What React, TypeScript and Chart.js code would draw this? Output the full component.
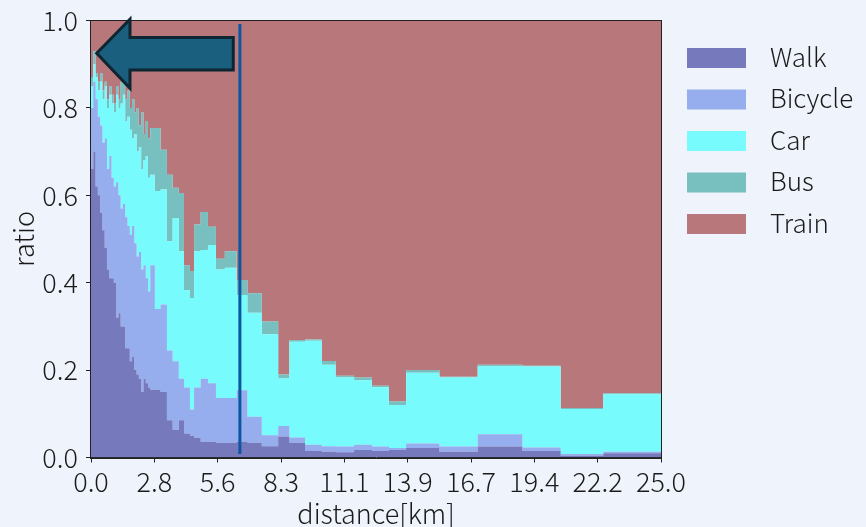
import React, { useEffect, useRef } from "react";
import { Chart, registerables } from "chart.js";

Chart.register(...registerables);

// ---- data ----
const binStarts = [
  0, 0.1, 0.2, 0.3, 0.4, 0.5, 0.6, 0.7, 0.8, 0.9, 1.0, 1.1, 1.2, 1.3, 1.4, 1.5, 1.6, 1.7, 1.8, 1.9, 2.0, 2.1, 2.2, 2.3, 2.4, 2.5,
  2.6, 2.8, 3.05, 3.33, 3.58, 3.85, 4.08, 4.34, 4.52, 4.81, 5.13, 5.48, 5.87, 6.39,
  6.86, 7.49, 8.21, 8.7, 9.39, 10.12, 10.73, 11.54, 12.32, 13.07, 13.82, 15.28, 16.96, 18.92, 20.6, 22.47,
];
const lastEdge = 25;

const walk = [
  0.66, 0.70, 0.62, 0.60, 0.56, 0.52, 0.48, 0.43, 0.41, 0.41, 0.40, 0.32, 0.33, 0.30, 0.30, 0.25, 0.25, 0.22, 0.23, 0.20, 0.19, 0.18, 0.15, 0.18, 0.17, 0.16,
  0.155, 0.155, 0.15, 0.085, 0.063, 0.085, 0.055, 0.05, 0.045, 0.036, 0.036, 0.034, 0.034, 0.036,
  0.034, 0.026, 0.048, 0.034, 0.015, 0.013, 0.012, 0.017, 0.015, 0.017, 0.022, 0.013, 0.025, 0.015, 0.004, 0.010,
];
const bicycle = [
  0.14, 0.16, 0.20, 0.18, 0.20, 0.20, 0.25, 0.23, 0.28, 0.23, 0.22, 0.31, 0.27, 0.27, 0.28, 0.30, 0.28, 0.29, 0.30, 0.29, 0.27, 0.29, 0.28, 0.26, 0.24, 0.22,
  0.285, 0.185, 0.20, 0.16, 0.157, 0.095, 0.105, 0.06, 0.115, 0.144, 0.134, 0.102, 0.102, 0.118,
  0.059, 0.025, 0.024, 0.012, 0.014, 0.013, 0.013, 0.012, 0.010, 0.005, 0.010, 0.012, 0.028, 0.008, 0.004, 0.003,
];
const car = [
  0.05, 0.04, 0.05, 0.06, 0.10, 0.10, 0.12, 0.14, 0.14, 0.17, 0.17, 0.20, 0.20, 0.24, 0.25, 0.22, 0.25, 0.24, 0.20, 0.25, 0.24, 0.24, 0.23, 0.24, 0.28, 0.26,
  0.207, 0.27, 0.263, 0.25, 0.328, 0.292, 0.223, 0.255, 0.312, 0.295, 0.316, 0.294, 0.298, 0.218,
  0.238, 0.231, 0.109, 0.219, 0.238, 0.186, 0.158, 0.148, 0.136, 0.098, 0.162, 0.158, 0.156, 0.185, 0.103, 0.132,
];
const bus = [
  0.02, 0.03, 0.01, 0.02, 0.02, 0.02, 0.01, 0.02, 0.02, 0.02, 0.02, 0.02, 0.02, 0.05, 0.04, 0.05, 0.06, 0.05, 0.09, 0.05, 0.10, 0.05, 0.13, 0.06, 0.08, 0.09,
  0.107, 0.144, 0.091, 0.152, 0.069, 0.133, 0.057, 0.062, 0.061, 0.087, 0.042, 0.025, 0.038, 0.034,
  0.045, 0.029, 0.009, 0.004, 0.003, 0.009, 0.004, 0.006, 0.003, 0.008, 0.006, 0.002, 0.003, 0.002, 0.002, 0.002,
];
const train = [
  0.13, 0.07, 0.12, 0.14, 0.12, 0.16, 0.14, 0.18, 0.15, 0.17, 0.19, 0.15, 0.18, 0.14, 0.13, 0.18, 0.16, 0.20, 0.18, 0.21, 0.20, 0.24, 0.21, 0.26, 0.23, 0.27,
  0.246, 0.246, 0.296, 0.353, 0.383, 0.395, 0.56, 0.573, 0.467, 0.438, 0.472, 0.545, 0.528, 0.594,
  0.624, 0.689, 0.81, 0.731, 0.73, 0.779, 0.813, 0.817, 0.836, 0.872, 0.80, 0.815, 0.788, 0.79, 0.887, 0.853,
];

const modeNames = ["Walk", "Bicycle", "Car", "Bus", "Train"];
const modeSeries = [walk, bicycle, car, bus, train];
const modeColors = ["#7779bd", "#96adee", "#78fbfc", "#78bfc0", "#b8787b"];

const xTickValues = [0, 25 / 9, 50 / 9, 75 / 9, 100 / 9, 125 / 9, 150 / 9, 175 / 9, 200 / 9, 25];
const xTickLabels = ["0.0", "2.8", "5.6", "8.3", "11.1", "13.9", "16.7", "19.4", "22.2", "25.0"];
const yTickValues = [0, 0.2, 0.4, 0.6, 0.8, 1.0];
const yTickLabels = ["0.0", "0.2", "0.4", "0.6", "0.8", "1.0"];

const markerDistance = 6.53;
const arrowShape = {
  tipX: 0.25, tipY: 0.925,
  headBackX: 1.71, headTopY: 1.003, headBottomY: 0.845,
  shaftTopY: 0.961, shaftBottomY: 0.887, tailX: 6.24,
};

const FONT = "'Noto Sans CJK JP', 'Noto Sans', sans-serif";
const TEXT = "#1a1a1a";
const BG = "#eff3fb";

const decorPlugin = {
  id: "decor",
  afterDatasetsDraw(chart: any) {
    const { ctx, chartArea: a, scales } = chart;
    const xs = scales.x, ys = scales.y;
    ctx.save();
    const lx = xs.getPixelForValue(markerDistance);
    ctx.strokeStyle = "#0b56a2";
    ctx.lineWidth = 3;
    ctx.beginPath();
    ctx.moveTo(lx, ys.getPixelForValue(0.992));
    ctx.lineTo(lx, ys.getPixelForValue(0.008));
    ctx.stroke();
    ctx.strokeStyle = "#222";
    ctx.lineWidth = 1;
    ctx.strokeRect(Math.round(a.left) - 0.5, Math.round(a.top) - 0.5, Math.round(a.right) - Math.round(a.left) + 1, Math.round(a.bottom) - Math.round(a.top) + 1);
    const s = arrowShape;
    const px = (v: number) => xs.getPixelForValue(v);
    const py = (v: number) => ys.getPixelForValue(v);
    ctx.beginPath();
    ctx.moveTo(px(s.tipX), py(s.tipY));
    ctx.lineTo(px(s.headBackX), py(s.headTopY));
    ctx.lineTo(px(s.headBackX), py(s.shaftTopY));
    ctx.lineTo(px(s.tailX), py(s.shaftTopY));
    ctx.lineTo(px(s.tailX), py(s.shaftBottomY));
    ctx.lineTo(px(s.headBackX), py(s.shaftBottomY));
    ctx.lineTo(px(s.headBackX), py(s.headBottomY));
    ctx.closePath();
    ctx.fillStyle = "#1b5f7e";
    ctx.fill();
    ctx.lineJoin = "miter";
    ctx.strokeStyle = "#0d2631";
    ctx.lineWidth = 3;
    ctx.stroke();
    ctx.restore();
  },
  afterDraw(chart: any) {
    const { ctx, chartArea: a } = chart;
    ctx.save();
    ctx.font = `300 26px ${FONT}`;
    ctx.textBaseline = "middle";
    ctx.textAlign = "left";
    modeNames.forEach((name, i) => {
      const top = a.top + 27.5 + i * 41.5;
      ctx.fillStyle = modeColors[i];
      ctx.fillRect(a.right + 26, top, 59, 20);
      ctx.fillStyle = TEXT;
      ctx.fillText(name, a.right + 109, top + 9);
    });
    ctx.font = `300 27px ${FONT}`;
    ctx.textAlign = "center";
    ctx.textBaseline = "alphabetic";
    ctx.fillText("distance[km]", (a.left + a.right) / 2, 524);
    ctx.translate(33.5, (a.top + a.bottom) / 2);
    ctx.rotate(-Math.PI / 2);
    ctx.fillText("ratio", 0, 0);
    ctx.restore();
  },
};

export default function App() {
  const ref = useRef<HTMLCanvasElement | null>(null);
  useEffect(() => {
    if (!ref.current) return;
    const datasets = modeSeries.map((_, k) => {
      const cum = binStarts.map((__, i) => {
        let s = 0;
        for (let j = 0; j <= k; j++) s += modeSeries[j][i];
        return s;
      });
      const pts = binStarts.map((x, i) => ({ x, y: cum[i] }));
      pts.push({ x: lastEdge, y: cum[cum.length - 1] });
      return {
        label: modeNames[k],
        data: pts,
        borderWidth: 0,
        borderColor: "rgba(0,0,0,0)",
        backgroundColor: modeColors[k],
        pointRadius: 0,
        fill: k === 0 ? "origin" : "-1",
        stepped: "before" as const,
      };
    });
    const tickFont = { family: FONT, size: 27, weight: "300" };
    const chart = new Chart(ref.current, {
      type: "line",
      data: { datasets },
      options: {
        animation: false,
        responsive: false,
        layout: { padding: { left: 0, top: 20.5, right: 205, bottom: 0 } },
        plugins: { legend: { display: false }, tooltip: { enabled: false } },
        scales: {
          x: {
            type: "linear",
            min: 0,
            max: 25,
            afterBuildTicks: (s: any) => { s.ticks = xTickValues.map((v) => ({ value: v })); },
            afterFit: (s: any) => { s.height = 69.5; s.paddingLeft = 0; s.paddingRight = 0; },
            ticks: { font: tickFont, color: TEXT, padding: 3, maxRotation: 0, autoSkip: false, callback: (_v: any, i: number) => xTickLabels[i] },
            grid: { drawOnChartArea: false, drawTicks: true, tickLength: 5, color: "#222", tickColor: "#222" },
            border: { display: true, color: "#222" },
          },
          y: {
            type: "linear",
            min: 0,
            max: 1,
            afterBuildTicks: (s: any) => { s.ticks = yTickValues.map((v) => ({ value: v })); },
            afterFit: (s: any) => { s.width = 91; s.paddingTop = 0; s.paddingBottom = 0; },
            ticks: { font: tickFont, color: TEXT, padding: 8, autoSkip: false, callback: (_v: any, i: number) => yTickLabels[i] },
            grid: { drawOnChartArea: false, drawTicks: true, tickLength: 5, color: "#222", tickColor: "#222" },
            border: { display: true, color: "#222" },
          },
        },
      },
      plugins: [decorPlugin],
    } as any);
    return () => chart.destroy();
  }, []);
  return (
    <div style={{ position: "fixed", left: 0, top: 0, width: 866, height: 527, background: BG }}>
      <canvas ref={ref} width={866} height={527} style={{ display: "block", width: 866, height: 527 }} />
    </div>
  );
}
